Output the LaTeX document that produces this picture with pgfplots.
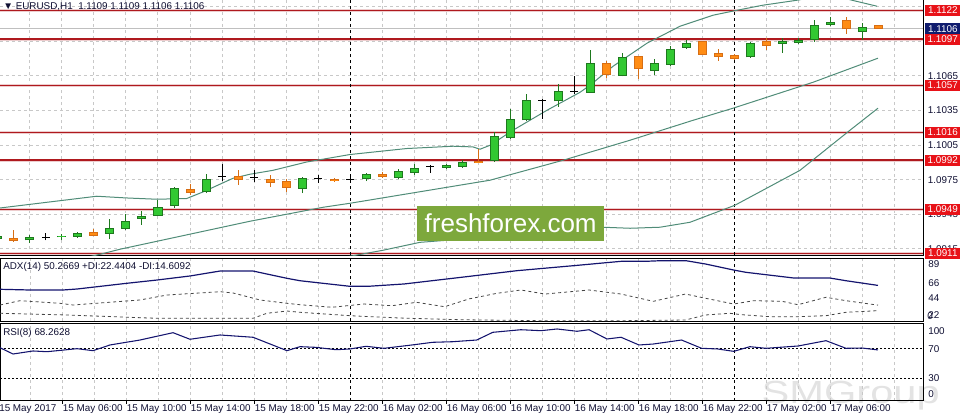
\documentclass[border=0pt]{standalone}
\usepackage{fontspec}
\setmainfont{Liberation Sans}
\usepackage{pgfplots}
\pgfplotsset{compat=1.18}
\usepackage{pgfplotstable}

\definecolor{bullfill}{RGB}{50,200,50}
\definecolor{bullline}{RGB}{30,120,30}
\definecolor{bearfill}{RGB}{255,140,20}
\definecolor{bearline}{RGB}{215,110,20}
\definecolor{srline}{RGB}{175,25,30}
\definecolor{srbox}{RGB}{232,18,24}
\definecolor{bidbox}{RGB}{16,28,110}
\definecolor{band}{RGB}{80,140,120}
\definecolor{gridc}{RGB}{200,200,200}
\definecolor{txt}{RGB}{15,15,50}
\definecolor{wmgreen}{RGB}{125,168,60}
\definecolor{adxc}{RGB}{20,20,110}
\definecolor{dic}{RGB}{70,70,70}

% H1 candles, t = hours since 15 May 00:00
\pgfplotstableread{
t  o       h       l       c
2  1.09232 1.09267 1.09224 1.09259
4  1.09224 1.09267 1.09200 1.09256
6  1.09252 1.09276 1.09224 1.09265
7  1.09256 1.09296 1.09244 1.09285
9  1.09282 1.09412 1.09232 1.09334
10 1.09322 1.09450 1.09311 1.09395
11 1.09409 1.09476 1.09360 1.09432
12 1.09438 1.09571 1.09432 1.09513
13 1.09525 1.09685 1.09508 1.09681
15 1.09640 1.09803 1.09634 1.09756
21 1.09673 1.09772 1.09634 1.09768
25 1.09756 1.09811 1.09738 1.09797
27 1.09768 1.09840 1.09759 1.09823
28 1.09811 1.09886 1.09794 1.09855
30 1.09855 1.09886 1.09840 1.09875
31 1.09864 1.09924 1.09855 1.09901
33 1.09910 1.10166 1.09905 1.10127
34 1.10112 1.10364 1.10107 1.10272
35 1.10265 1.10497 1.10259 1.10445
37 1.10430 1.10578 1.10381 1.10523
39 1.10506 1.10879 1.10503 1.10766
41 1.10653 1.10850 1.10647 1.10810
43 1.10697 1.10801 1.10662 1.10758
44 1.10749 1.10908 1.10740 1.10888
45 1.10896 1.10960 1.10884 1.10940
49 1.10810 1.10943 1.10807 1.10940
51 1.10931 1.10975 1.10853 1.10951
52 1.10936 1.10983 1.10931 1.10962
53 1.10960 1.11133 1.10945 1.11090
54 1.11096 1.11162 1.11081 1.11122
56 1.11032 1.11110 1.10960 1.11079
}\bull

\pgfplotstableread{
t  o       h       l       c
3  1.09247 1.09317 1.09209 1.09218
8  1.09293 1.09325 1.09259 1.09265
14 1.09673 1.09710 1.09617 1.09634
17 1.09779 1.09837 1.09704 1.09751
19 1.09759 1.09794 1.09686 1.09725
20 1.09736 1.09759 1.09643 1.09681
23 1.09753 1.09762 1.09730 1.09738
26 1.09803 1.09817 1.09768 1.09777
32 1.09912 1.10014 1.09893 1.09895
40 1.10758 1.10780 1.10633 1.10662
42 1.10821 1.10825 1.10627 1.10706
46 1.10951 1.10955 1.10830 1.10836
47 1.10847 1.10888 1.10780 1.10818
48 1.10832 1.10844 1.10786 1.10798
50 1.10951 1.10975 1.10879 1.10910
55 1.11133 1.11162 1.11018 1.11053
57 1.11090 1.11090 1.11060 1.11060
}\bear

\pgfplotstableread{
t  o       h       l       c
5  1.09247 1.09291 1.09224 1.09247
16 1.09773 1.09883 1.09738 1.09773
18 1.09768 1.09837 1.09727 1.09768
22 1.09756 1.09788 1.09721 1.09756
24 1.09751 1.09779 1.09727 1.09751
29 1.09864 1.09877 1.09808 1.09864
36 1.10433 1.10454 1.10280 1.10433
38 1.10511 1.10647 1.10491 1.10511
}\doji

\pgfplotsset{
  panel/.style={
    scale only axis, anchor=south west,
    width=692.25pt, xmin=2.125, xmax=59.8125,
    axis line style={black, line width=0.75pt},
    xtick={6,10,...,54}, minor xtick={4,6,...,58},
    xminorgrids=true, xmajorgrids=false,
    minor grid style={gridc, line width=0.75pt, dash pattern=on 2.25pt off 2.25pt},
    major grid style={gridc, line width=0.75pt, dash pattern=on 2.25pt off 2.25pt},
    xticklabels={}, major tick length=0pt, minor tick length=0pt,
    ytick=\empty, no markers,
    ticklabel style={font=\fontsize{7.4}{8}\selectfont, text=txt},
    /pgf/number format/assume math mode=true,
  },
  candle/.style={draw=none, mark=none, forget plot,
    error bars/y dir=plus, error bars/y explicit, error bars/error mark=none},
}
\tikzset{
  srlabel/.style={anchor=west, xshift=1.5pt, fill=srbox, text=white,
    minimum width=26.25pt, minimum height=8.25pt, inner sep=0pt,
    font=\fontsize{7.4}{8}\selectfont},
  scale lbl/.style={anchor=west, inner sep=0pt, text=txt,
    font=\fontsize{7.4}{8}\selectfont},
}

\begin{document}
\begin{tikzpicture}
\path[use as bounding box] (0,0) rectangle (723.75pt,314.25pt);

% watermark
\node[text=black!11, font=\fontsize{24}{24}\selectfont, xscale=1.3]
  at (638pt,17.25pt) {SMGroup};

% ---------------- price panel ----------------
\begin{axis}[panel, at={(0pt,123pt)}, height=191.25pt,
  ymin=1.09096, ymax=1.11309,
  ytick={1.0915,1.0945,1.0975,1.1005,1.1035,1.1065,1.1095,1.1125},
  yticklabels={1.0915,1.0945,1.0975,1.1005,1.1035,1.1065,,},
  ymajorgrids=true, yticklabel pos=right, scaled y ticks=false,
  yticklabel style={anchor=west, inner sep=0pt, xshift=3.5pt},
]
% support / resistance levels
\pgfplotsinvokeforeach{1.1122,1.1097,1.1057,1.1016,1.0992,1.0949,1.0911}{
  \draw[srline!22, line width=2.25pt] (axis cs:2.125,#1) -- (axis cs:59.8125,#1);
  \draw[srline, line width=0.9pt] (axis cs:2.125,#1) -- (axis cs:59.8125,#1);
}
% bid line
\draw[black!25, line width=0.75pt] (axis cs:2.125,1.1106) -- (axis cs:59.8125,1.1106);
% day separators
\draw[black, line width=0.75pt, dash pattern=on 2.25pt off 2.25pt]
  (axis cs:24,1.09096) -- (axis cs:24,1.11309)
  (axis cs:48,1.09096) -- (axis cs:48,1.11309);

% Bollinger bands
\addplot[band, line width=0.75pt] coordinates {
  (2.125,1.09504) (8.17,1.09606) (10.04,1.09591) (11.92,1.09580) (13.79,1.09586)
  (14.81,1.09643) (16.69,1.09762) (17.75,1.09797) (19.19,1.09831) (21.29,1.09903)
  (24,1.09968) (27.54,1.10020) (30.44,1.10040) (31.69,1.10034) (32.125,1.10014)
  (32.75,1.10048) (34.19,1.10179) (36.31,1.10352) (38.375,1.10508) (39,1.10569)
  (40.44,1.10734) (42.56,1.10934) (44.625,1.11081) (46.69,1.11177) (48.19,1.11220)
  (49.81,1.11264) (51.94,1.11307) (53.375,1.11342) (54.625,1.11333) (55.375,1.11307)
  (56.94,1.11255)};
\addplot[band, line width=0.75pt] coordinates {
  (7.125,1.09063) (8.375,1.09102) (9.625,1.09146) (17.75,1.09389) (22.31,1.09510)
  (24,1.09545) (32.75,1.09745) (37.31,1.09918) (41.5,1.10092) (45.44,1.10265)
  (47.94,1.10370) (52.94,1.10595) (57,1.10804)};
\addplot[band, line width=0.75pt] coordinates {
  (20.875,1.09000) (24,1.09085) (26.06,1.09137) (28.375,1.09206) (33.375,1.09259)
  (37.125,1.09302) (39.81,1.09337) (41.5,1.09328) (43.375,1.09337) (45.25,1.09380)
  (48.06,1.09528) (52.125,1.09831) (55.25,1.10179) (57,1.10370)};

% wicks
\addplot[candle, error bars/error bar style={draw=bullline, line width=0.75pt}]
  table[x=t, y=l, y error plus expr=\thisrow{h}-\thisrow{l}] {\bull};
\addplot[candle, error bars/error bar style={draw=bearline, line width=0.75pt}]
  table[x=t, y=l, y error plus expr=\thisrow{h}-\thisrow{l}] {\bear};
\addplot[candle, error bars/error bar style={draw=black, line width=0.75pt}]
  table[x=t, y=l, y error plus expr=\thisrow{h}-\thisrow{l}] {\doji};
% bodies
\addplot[candle, error bars/error bar style={draw=bullline, line width=6.75pt}]
  table[x=t, y=o, y error plus expr=\thisrow{c}-\thisrow{o}] {\bull};
\addplot[candle, error bars/error bar style={draw=bullfill, line width=5.25pt,
    shorten <=0.75pt, shorten >=0.75pt}]
  table[x=t, y=o, y error plus expr=\thisrow{c}-\thisrow{o}] {\bull};
\addplot[candle, error bars/error bar style={draw=bearline, line width=6.75pt}]
  table[x=t, y=c, y error plus expr=\thisrow{o}-\thisrow{c}] {\bear};
\addplot[candle, error bars/error bar style={draw=bearfill, line width=5.25pt,
    shorten <=0.75pt, shorten >=0.75pt}]
  table[x=t, y=c, y error plus expr=\thisrow{o}-\thisrow{c}] {\bear};
\addplot[draw=none, mark=none, forget plot,
  error bars/x dir=both, error bars/x fixed=0.28, error bars/error mark=none,
  error bars/error bar style={draw=black, line width=0.75pt}]
  table[x=t, y=c] {\doji};

% anchor points for the right-hand price labels
\coordinate (pa) at (axis cs:59.8125,1.1122);
\coordinate (pb) at (axis cs:59.8125,1.1097);
\coordinate (pc) at (axis cs:59.8125,1.1057);
\coordinate (pd) at (axis cs:59.8125,1.1016);
\coordinate (pe) at (axis cs:59.8125,1.0992);
\coordinate (pf) at (axis cs:59.8125,1.0949);
\coordinate (pg) at (axis cs:59.8125,1.0911);
\coordinate (bid) at (axis cs:59.8125,1.1106);
\end{axis}
\node[srlabel] at (pa) {1.1122};
\node[srlabel] at (pb) {1.1097};
\node[srlabel] at (pc) {1.1057};
\node[srlabel] at (pd) {1.1016};
\node[srlabel] at (pe) {1.0992};
\node[srlabel] at (pf) {1.0949};
\node[srlabel] at (pg) {1.0911};
\node[srlabel, fill=bidbox] at (bid) {1.1106};

% ---------------- ADX panel ----------------
\begin{axis}[panel, at={(0pt,73.5pt)}, height=47.25pt, ymin=0, ymax=89]
\draw[black, line width=0.75pt, dash pattern=on 2.25pt off 2.25pt]
  (axis cs:24,0) -- (axis cs:24,89) (axis cs:48,0) -- (axis cs:48,89);
\addplot[adxc, line width=0.9pt] coordinates {
  (2.125,44.8) (4,43.8) (6.06,43.8) (6.94,45.2) (10.06,53.3) (11.94,57.9) (14,63.6)
  (15.875,70.6) (17.94,70.6) (20.06,60.3) (20.875,56.9) (24,49.0) (25.125,49.0)
  (27.375,52.3) (30.94,61.7) (34.44,71.1) (37.94,78.1) (40.94,84.3) (42.44,84.3)
  (43.44,85.2) (45,85.2) (46.225,80.5) (47.98,72.0) (48.74,68.8) (51.75,60.7)
  (54,60.7) (55,56.9) (57,50.3)};
\addplot[dic, line width=0.6pt, dash pattern=on 2.25pt off 2.25pt] coordinates {
  (2.125,22.6) (3.375,28.7) (5.875,25.0) (6.69,22.6) (10.875,29.7) (12.56,36.7)
  (15.875,41.4) (16.69,39.6) (18.375,29.7) (20.06,25.0) (20.875,23.0) (22.875,19.4)
  (24.875,24.0) (26.625,21.6) (28.16,26.4) (29.91,20.2) (31.42,31.1) (33.175,39.1)
  (34.68,43.8) (36.19,38.1) (38.94,43.8) (40.94,38.1) (42.96,27.8) (44.97,38.1)
  (46.225,32.1) (47.98,24.0) (49.24,28.7) (51,27.8) (52,23.0) (53.75,33.5)
  (55,28.7) (57,22.4)};
\addplot[dic, line width=0.6pt, dash pattern=on 2.25pt off 2.25pt] coordinates {
  (2.125,10.9) (6.3,8.5) (11.94,3.8) (17.94,3.8) (18.8,10.9) (20.06,14.1)
  (20.875,12.3) (24,7.5) (27.125,4.2) (30.9,1.8) (35.94,0.4) (40.94,0.4)
  (44.97,1.4) (46.225,8.5) (47.73,10.9) (48.49,8.9) (50.25,6.1) (52,6.1)
  (53.75,7.5) (55,12.3) (57,14.6)};
\end{axis}

% ---------------- RSI panel ----------------
\begin{axis}[panel, at={(0pt,13.875pt)}, height=57.75pt, ymin=0, ymax=104,
  xticklabels={15 May 06:00,15 May 10:00,15 May 14:00,15 May 18:00,15 May 22:00,
    16 May 02:00,16 May 06:00,16 May 10:00,16 May 14:00,16 May 18:00,16 May 22:00,
    17 May 02:00,17 May 06:00},
  xtick pos=bottom, tick align=outside, major tick length=2.25pt,
  xtick style={black, line width=0.75pt},
  xticklabel style={anchor=north west, inner sep=0pt, xshift=0.5pt, yshift=-0.8pt},
]
\draw[black, line width=0.75pt, dash pattern=on 2.25pt off 2.25pt]
  (axis cs:24,0) -- (axis cs:24,104) (axis cs:48,0) -- (axis cs:48,104);
\draw[black, line width=0.75pt, dash pattern=on 1.5pt off 1.5pt]
  (axis cs:2.125,70) -- (axis cs:59.8125,70) (axis cs:2.125,30) -- (axis cs:59.8125,30);
\addplot[adxc, line width=0.8pt] coordinates {
  (2.125,71.3) (2.94,62.8) (4.19,66.9) (5.06,65.9) (6.94,70.0) (7.94,67.3) (9,75.0)
  (10.875,81.7) (12.94,91.6) (14,82.7) (15.875,88.5) (17.94,85.4) (20.06,67.3)
  (20.875,72.7) (21.875,71.8) (23.125,68.6) (24,69.6) (25,73.2) (26.125,70.5)
  (27.875,75.0) (29.16,78.6) (30.41,79.4) (31.92,81.7) (32.925,92.1) (34.68,95.6)
  (35.94,94.3) (36.94,96.6) (38.19,93.5) (38.94,95.6) (40.06,83.1) (40.94,85.4)
  (42.06,75.0) (42.96,76.3) (44.72,81.7) (45.975,70.5) (46.98,69.6) (47.98,66.4)
  (48.99,72.7) (50,70.5) (52,73.6) (53.75,80.8) (55,70.5) (56,70.9) (57,68.3)};
\end{axis}

% text on the chart
\node[scale lbl] at (2.25pt,309pt) {▼ EURUSD,H1\ \ 1.1109 1.1109 1.1106 1.1106};
\node[scale lbl] at (2.25pt,114pt) {ADX(14) 50.2669 +DI:22.4404 -DI:14.6092};
\node[scale lbl] at (2.25pt,64.5pt) {RSI(8) 68.2628};
\node[scale lbl] at (-0.75pt,7.5pt) {15 May 2017};
\node[scale lbl] at (696pt,116.25pt) {89};
\node[scale lbl] at (696pt,102pt) {66};
\node[scale lbl] at (696pt,90.75pt) {44};
\node[scale lbl] at (696pt,78pt) {22};
\node[scale lbl] at (695.25pt,77.25pt) {0};
\node[scale lbl] at (696pt,66pt) {100};
\node[scale lbl] at (696pt,52.7pt) {70};
\node[scale lbl] at (696pt,30.75pt) {30};
\node[scale lbl] at (696pt,18.75pt) {0};

% freshforex watermark
\node[fill=wmgreen, text=white, minimum width=140pt, minimum height=26.25pt,
  inner sep=0pt, font=\fontsize{19.5}{20}\selectfont] at (383pt,146.6pt) {freshforex.com};
\end{tikzpicture}
\end{document}
